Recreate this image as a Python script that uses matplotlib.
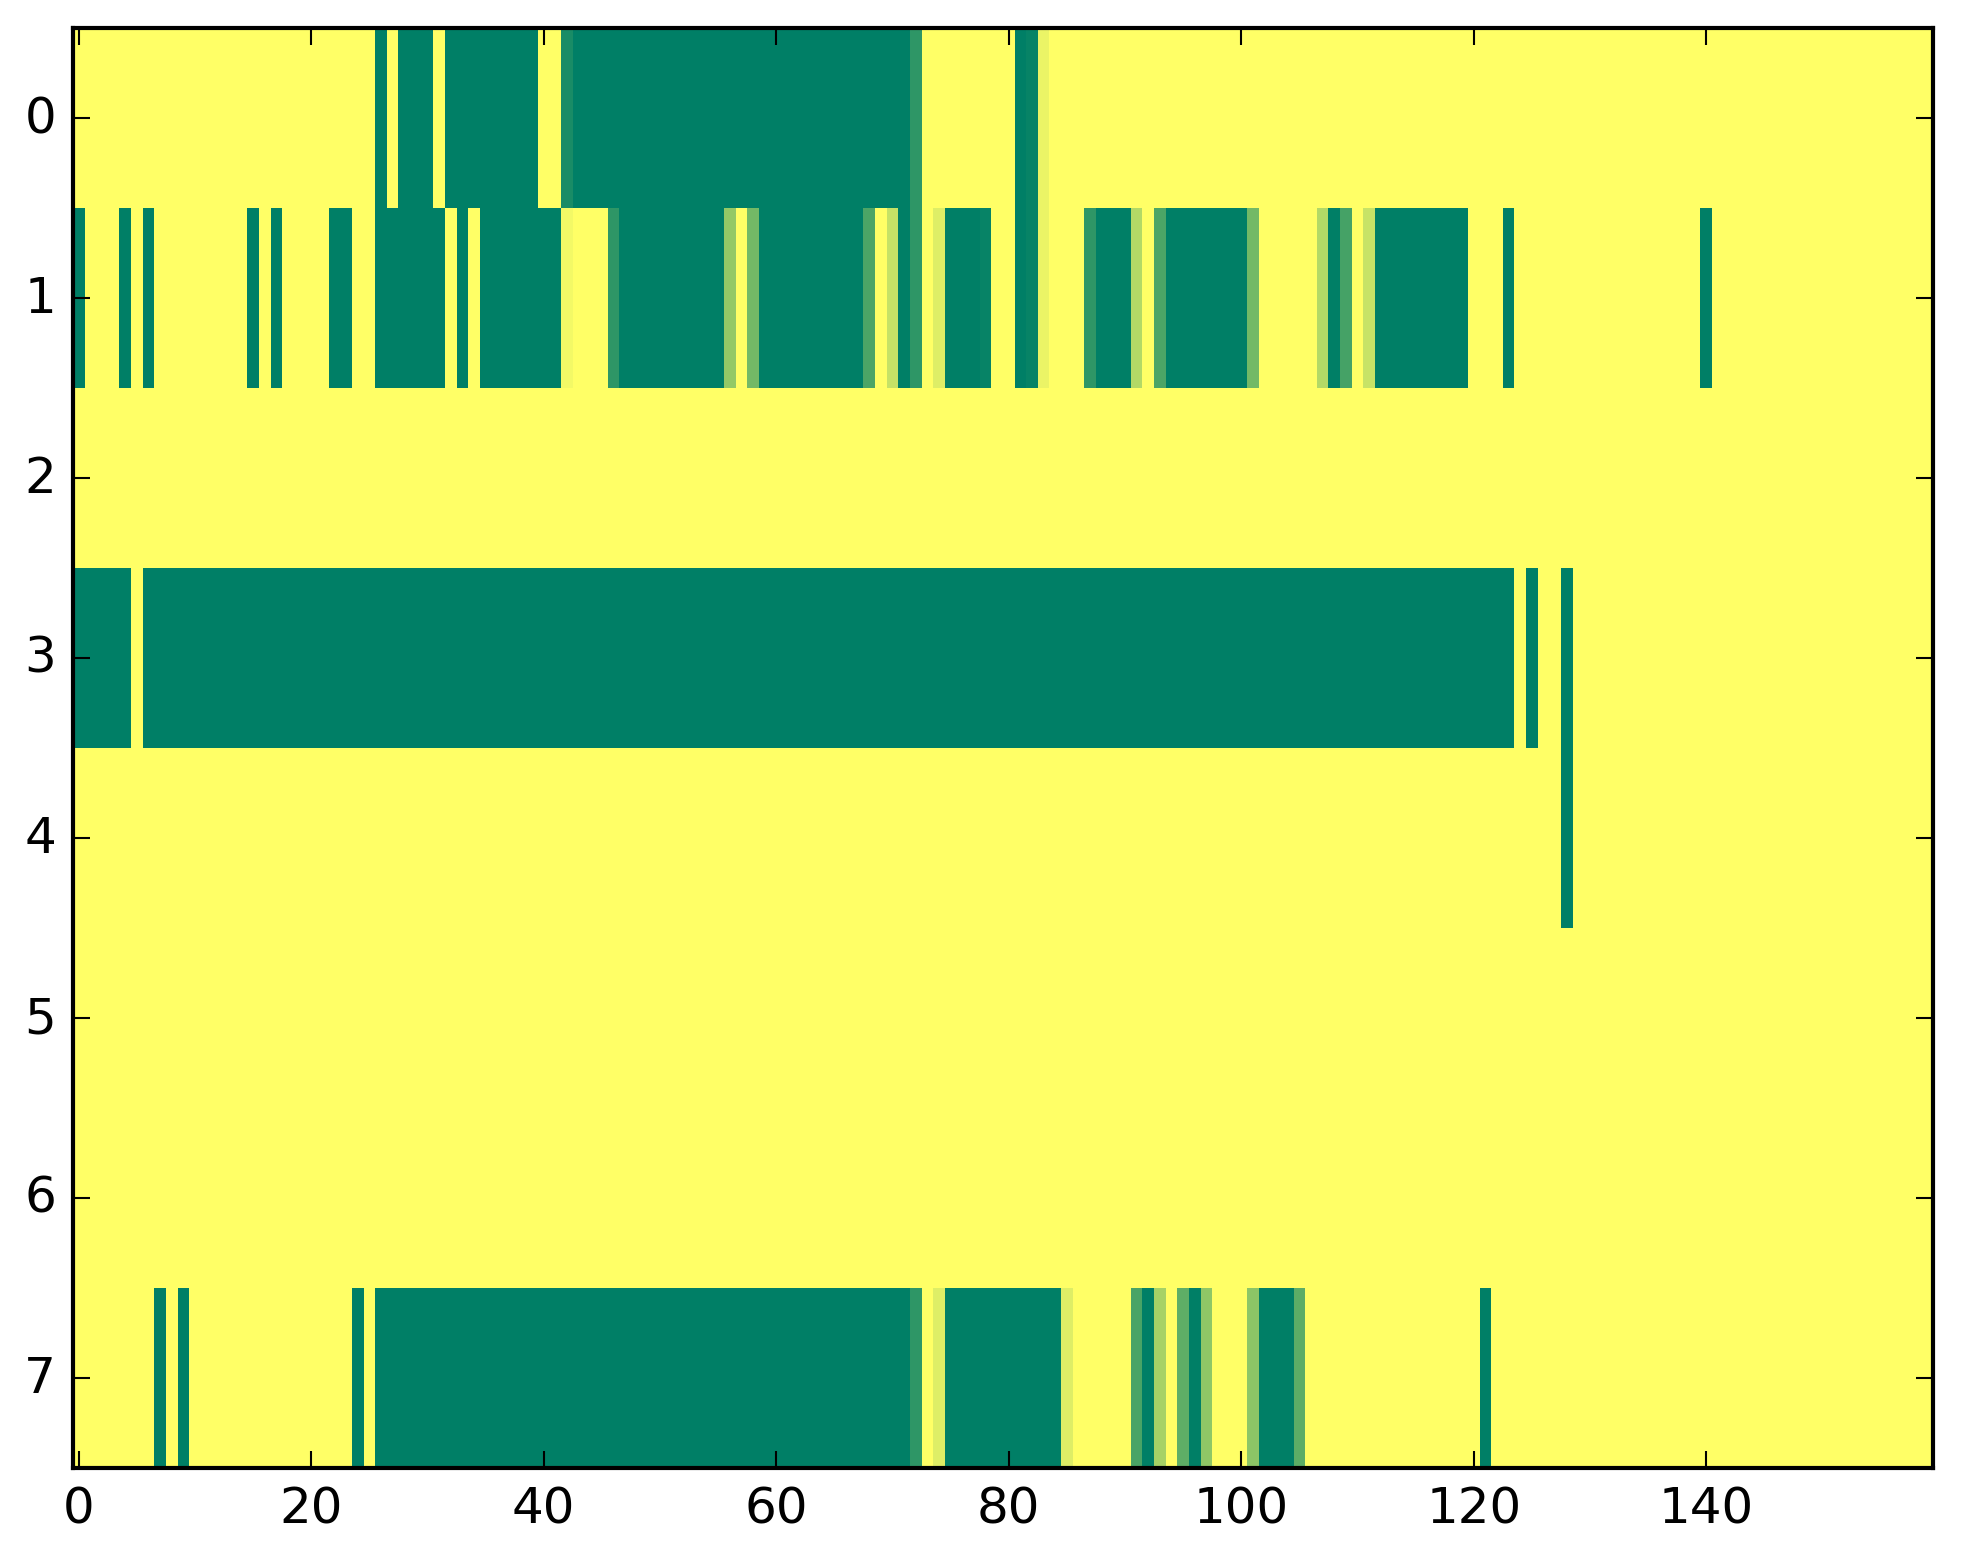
import matplotlib
matplotlib.use("Agg")
import matplotlib.pyplot as plt
import numpy as np

plt.style.use("classic")

N_ROWS = 8
N_COLS = 160

# runs of (start_col, stop_col, value); every cell not listed is 1.0
row0_runs = [(26, 27, 0), (28, 31, 0), (32, 40, 0), (42, 43, 0.1), (43, 72, 0),
             (72, 73, 0.18), (81, 82, 0), (82, 83, 0.03), (83, 84, 0.92)]
row1_runs = [(0, 1, 0), (4, 5, 0), (6, 7, 0), (15, 16, 0), (17, 18, 0), (22, 24, 0),
             (26, 32, 0), (33, 34, 0), (35, 42, 0), (42, 43, 0.95), (46, 47, 0.18),
             (47, 56, 0), (56, 57, 0.58), (58, 59, 0.45), (59, 68, 0), (68, 69, 0.3),
             (70, 71, 0.77), (71, 72, 0), (72, 73, 0.18), (74, 75, 0.87), (75, 78, 0),
             (78, 79, 0.03), (81, 82, 0), (82, 83, 0.03), (83, 84, 0.92), (87, 88, 0.18),
             (88, 91, 0), (91, 92, 0.7), (93, 94, 0.3), (94, 101, 0), (101, 102, 0.45),
             (107, 108, 0.7), (108, 109, 0), (109, 110, 0.27), (111, 112, 0.78),
             (112, 120, 0), (123, 124, 0), (140, 141, 0)]
row2_runs = []
row3_runs = [(0, 5, 0), (6, 124, 0), (125, 126, 0), (128, 129, 0)]
row4_runs = [(128, 129, 0)]
row5_runs = []
row6_runs = []
row7_runs = [(7, 8, 0), (9, 10, 0), (24, 25, 0), (26, 72, 0), (72, 73, 0.18),
             (74, 75, 0.87), (75, 85, 0), (85, 86, 0.87), (91, 92, 0.29), (92, 93, 0),
             (93, 94, 0.65), (95, 96, 0.37), (96, 97, 0), (97, 98, 0.56),
             (101, 102, 0.55), (102, 105, 0), (105, 106, 0.36), (121, 122, 0)]

all_runs = [row0_runs, row1_runs, row2_runs, row3_runs,
            row4_runs, row5_runs, row6_runs, row7_runs]

data = np.ones((N_ROWS, N_COLS))
for r, runs in enumerate(all_runs):
    for start, stop, val in runs:
        data[r, start:stop] = val

fig = plt.figure(figsize=(1963 / 300, 1564 / 300), dpi=300, facecolor="white")
ax = fig.add_axes([72.9 / 1963, 95 / 1564, 1860 / 1963, 1440 / 1564])
ax.imshow(data, cmap="summer", vmin=0, vmax=1, aspect="auto", interpolation="nearest")
ax.set_xticks(np.arange(0, 141, 20))
ax.set_yticks(np.arange(0, 8))
ax.set_xlim(-0.5, N_COLS - 0.5)
ax.set_ylim(N_ROWS - 0.5, -0.5)

fig.savefig("out.png", dpi=300, facecolor="white")
